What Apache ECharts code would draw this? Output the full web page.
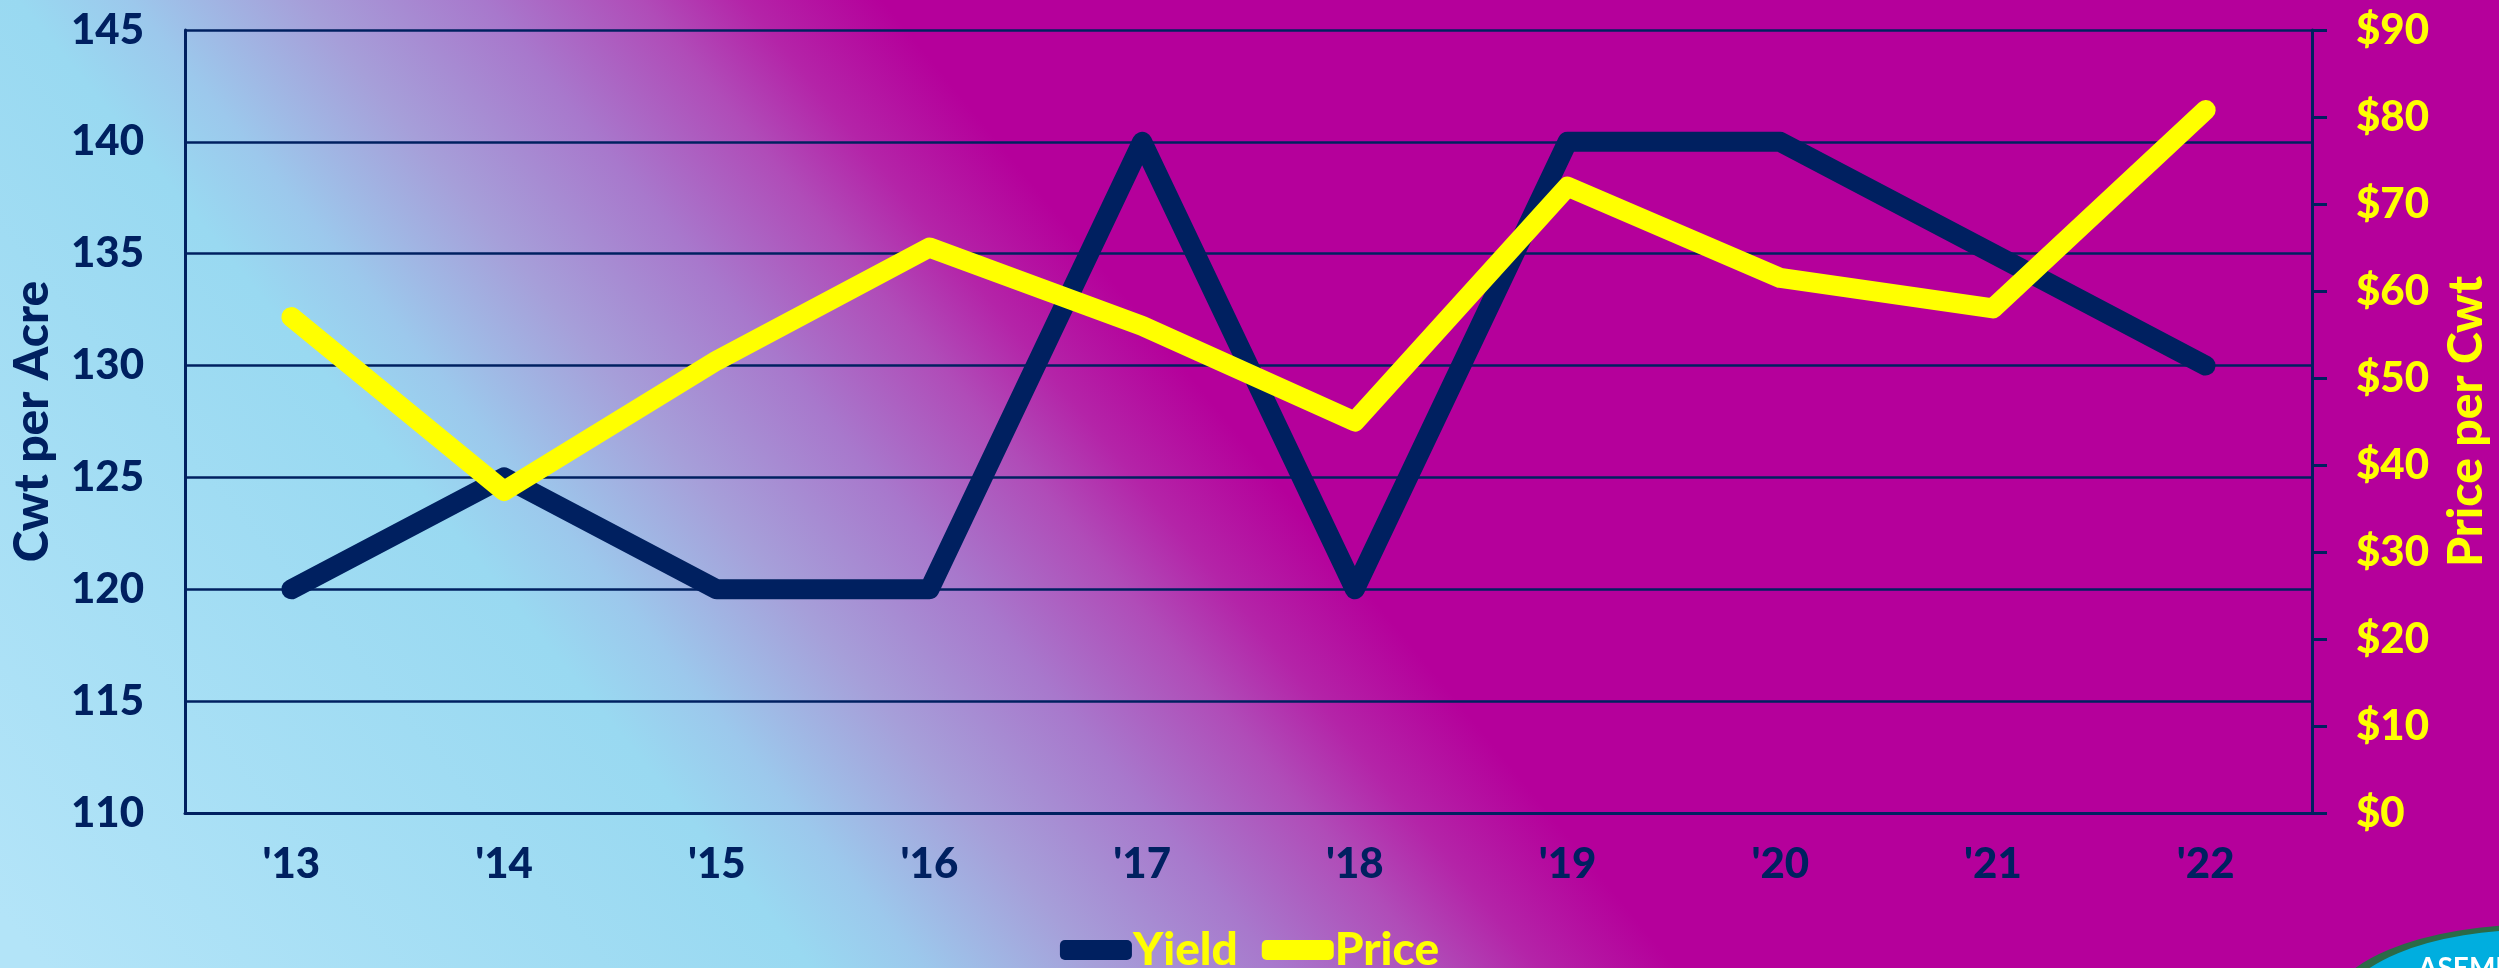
<!DOCTYPE html>
<html>
<head>
<meta charset="utf-8">
<style>
  html, body { margin: 0; padding: 0; width: 2499px; height: 968px; overflow: hidden; }
  #chart { width: 2499px; height: 968px; }
</style>
<script src="https://cdn.jsdelivr.net/npm/echarts@6/dist/echarts.min.js"></script>
</head>
<body>
<div id="chart"></div>
<script>
const categories = ["'13", "'14", "'15", "'16", "'17", "'18", "'19", "'20", "'21", "'22"];
const yieldValues = [120, 125, 120, 120, 140, 120, 140, 140, 135, 130];
const priceValues = [57, 37, 52, 65, 56, 45, 72, 61.5, 58, 80.8];
const leftTicks = { min: 110, max: 145, interval: 5 };
const rightTicks = { min: 0, max: 90, interval: 10 };

const NAVY = '#002060';
const YELLOW = '#FFFF00';
const FONT = 'Lato';
const W = 900;

const chart = echarts.init(document.getElementById('chart'), null, { renderer: 'canvas' });

const option = {
  backgroundColor: {
    type: 'linear', global: true,
    x: 45, y: 968, x2: 1020, y2: 168,
    colorStops: [
      { offset: 0, color: '#b3e4f8' },
      { offset: 0.47, color: '#99d9f1' },
      { offset: 0.539, color: '#9cc8ec' },
      { offset: 0.645, color: '#a69fd9' },
      { offset: 0.756, color: '#a878cc' },
      { offset: 0.852, color: '#b04cb8' },
      { offset: 0.915, color: '#b424a8' },
      { offset: 1, color: '#b5009b' }
    ]
  },
  animation: false,
  grid: { left: 185, right: 186, top: 30, bottom: 155, containLabel: false },
  legend: {
    data: ['Yield', 'Price'],
    left: 'center',
    top: 922,
    icon: 'roundRect',
    itemWidth: 72,
    itemHeight: 20,
    itemGap: 24,
    textStyle: { color: YELLOW, fontFamily: FONT, fontWeight: W, fontSize: 46, padding: [0, 0, 0, -4] }
  },
  xAxis: {
    type: 'category',
    data: categories,
    boundaryGap: true,
    axisLine: { show: true, lineStyle: { color: NAVY, width: 3 } },
    axisTick: { show: false },
    axisLabel: { color: NAVY, fontFamily: FONT, fontWeight: W, fontSize: 42, margin: 30 },
    splitLine: { show: false }
  },
  yAxis: [
    {
      type: 'value',
      min: leftTicks.min, max: leftTicks.max, interval: leftTicks.interval,
      position: 'left',
      name: 'Cwt per Acre',
      nameLocation: 'middle',
      nameGap: 128,
      nameTextStyle: { color: NAVY, fontFamily: FONT, fontWeight: W, fontSize: 48 },
      axisLine: { show: true, lineStyle: { color: NAVY, width: 3 } },
      axisTick: { show: false },
      axisLabel: { color: NAVY, fontFamily: FONT, fontWeight: W, fontSize: 42, margin: 41 },
      splitLine: { show: true, lineStyle: { color: NAVY, width: 2.5 } }
    },
    {
      type: 'value',
      min: rightTicks.min, max: rightTicks.max, interval: rightTicks.interval,
      position: 'right',
      name: 'Price per Cwt',
      nameLocation: 'middle',
      nameGap: 131,
      nameRotate: 90,
      nameTextStyle: { color: YELLOW, fontFamily: FONT, fontWeight: W, fontSize: 48 },
      axisLine: { show: true, lineStyle: { color: NAVY, width: 3 } },
      axisTick: { show: true, inside: false, length: 15, lineStyle: { color: NAVY, width: 3 } },
      axisLabel: { color: YELLOW, fontFamily: FONT, fontWeight: W, fontSize: 42, margin: 44, formatter: '${value}' },
      splitLine: { show: false }
    }
  ],
  series: [
    {
      name: 'Yield', type: 'line', yAxisIndex: 0,
      data: yieldValues,
      showSymbol: false, symbol: 'none',
      color: NAVY,
      itemStyle: { color: NAVY },
      lineStyle: { color: NAVY, width: 20, cap: 'round', join: 'round' },
      z: 3
    },
    {
      name: 'Price', type: 'line', yAxisIndex: 1,
      data: priceValues,
      showSymbol: false, symbol: 'none',
      color: YELLOW,
      itemStyle: { color: YELLOW },
      lineStyle: { color: YELLOW, width: 20, cap: 'round', join: 'round' },
      z: 4
    }
  ],
  graphic: [
    {
      type: 'circle',
      x: 2535, y: 1010, scaleX: 2.0, scaleY: 0.83,
      shape: { cx: 0, cy: 0, r: 100 },
      style: { fill: '#00AEDF', stroke: '#2B6A47', lineWidth: 8, strokeNoScale: true },
      silent: true, z: 10
    },
    {
      type: 'text',
      x: 2418, y: 955,
      style: { text: 'ASEMPA', fill: '#ffffff', font: 'bold 28px "Lato"' },
      silent: true, z: 11
    }
  ]
};

chart.setOption(option);
</script>
</body>
</html>
